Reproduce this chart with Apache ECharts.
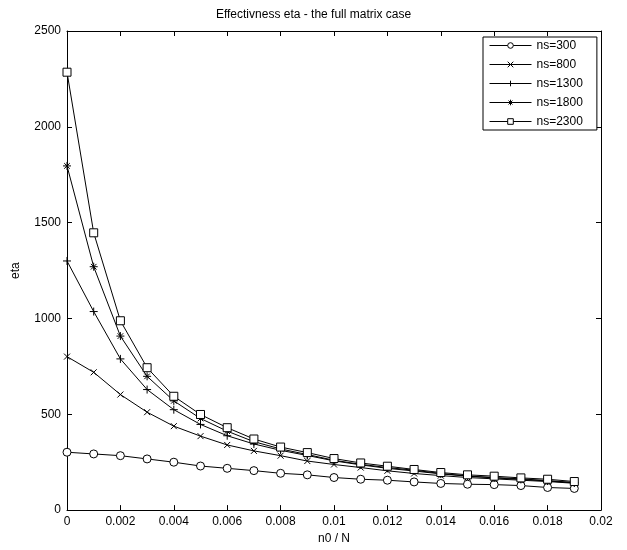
<!DOCTYPE html>
<html>
<head>
<meta charset="utf-8">
<title>Effectivness eta</title>
<script src="https://cdn.jsdelivr.net/npm/echarts@6/dist/echarts.min.js"></script>
<style>
	html, body { margin: 0; padding: 0; background: #fff; }
	#chart { width: 627px; height: 550px; }
</style>
</head>
<body>
<div id="chart"></div>
<script>
// x positions (n0 / N)
var xVals = [0, 0.001, 0.002, 0.003, 0.004, 0.005, 0.006, 0.007, 0.008, 0.009,
	0.010, 0.011, 0.012, 0.013, 0.014, 0.015, 0.016, 0.017, 0.018, 0.019];

// eta values
var ns300 = [302, 293, 284, 267, 250, 230, 218, 206, 192, 184, 170, 161, 156, 147, 139, 135, 133, 128, 118, 113];
var ns800 = [801, 719, 603, 511, 438, 386, 340, 309, 284, 256, 238, 222, 205, 191, 180, 170, 163, 156, 149, 140];
var ns1300 = [1300, 1036, 789, 629, 524, 447, 388, 345, 312, 285, 257, 236, 218, 204, 189, 177, 168, 160, 152, 142];
var ns1800 = [1796, 1270, 908, 698, 570, 478, 412, 357, 319, 290, 260, 239, 222, 208, 191, 178, 170, 163, 154, 144];
var ns2300 = [2285, 1447, 988, 743, 594, 499, 430, 371, 329, 300, 269, 246, 229, 212, 196, 184, 177, 168, 161, 149];

var legendNames = ['ns=300', 'ns=800', 'ns=1300', 'ns=1800', 'ns=2300'];

// marker shapes (stroked paths)
var markCircle = 'path://M10,5A5,5,0,1,1,0,5A5,5,0,1,1,10,5Z';
var markSquare = 'path://M0,0L10,0L10,10L0,10Z';
var markX = 'path://M0,0L10,10M10,0L0,10';
var markPlus = 'path://M5,0L5,10M0,5L10,5';
var markStar = 'path://M5,0L5,10M0,5L10,5M1.5,1.5L8.5,8.5M8.5,1.5L1.5,8.5';

var font = 'Liberation Sans, Arial, sans-serif';

function pairs(vals) {
	var out = [];
	vals.forEach(function (v, i) {
		out.push([xVals[i], v]);
	});
	return out;
}

function makeSeries(name, vals, symbol, size) {
	return {
		name: name,
		type: 'line',
		data: pairs(vals),
		symbol: symbol,
		symbolSize: size,
		showAllSymbol: true,
		animation: false,
		lineStyle: { color: '#000', width: 1 },
		itemStyle: { color: '#fff', borderColor: '#000', borderWidth: 1 },
		emphasis: { disabled: true }
	};
}

function axisBase(extra) {
	var a = {
		type: 'value',
		axisLine: { show: true, onZero: false, lineStyle: { color: '#000', width: 1 } },
		axisTick: { show: true, inside: true, length: 5, lineStyle: { color: '#000' } },
		splitLine: { show: false },
		axisLabel: { show: false }
	};
	for (var k in extra) a[k] = extra[k];
	return a;
}

var option = {
	backgroundColor: '#fff',
	animation: false,
	title: {
		text: 'Effectivness eta - the full matrix case',
		left: 'center',
		top: 4,
		textStyle: { fontFamily: font, fontSize: 12, fontWeight: 'normal', color: '#000' }
	},
	grid: { left: 67, right: 26, top: 31, bottom: 38 },
	legend: {
		orient: 'vertical',
		left: 483,
		top: 37,
		padding: [2.5, 14, 2.5, 6],
		itemWidth: 42,
		itemHeight: 7,
		itemGap: 7,
		borderColor: '#000',
		borderWidth: 1,
		backgroundColor: '#fff',
		lineStyle: { width: 1, color: '#000' },
		itemStyle: { color: '#fff', borderColor: '#000', borderWidth: 1 },
		textStyle: { fontFamily: font, fontSize: 12, color: '#000' },
		data: legendNames
	},
	xAxis: [
		axisBase({
			min: 0, max: 0.02, interval: 0.002,
			position: 'bottom',
			name: 'n0 / N',
			nameLocation: 'middle',
			nameGap: 22,
			nameTextStyle: { fontFamily: font, fontSize: 12, color: '#000' },
			axisLabel: {
				show: true, color: '#000', fontFamily: font, fontSize: 12, margin: 6,
				formatter: function (v) { return String(+v.toFixed(3)); }
			}
		}),
		axisBase({ min: 0, max: 0.02, interval: 0.002, position: 'top' })
	],
	yAxis: [
		axisBase({
			min: 0, max: 2500, interval: 500,
			position: 'left',
			name: 'eta',
			nameLocation: 'middle',
			nameGap: 45,
			nameRotate: 90,
			nameTextStyle: { fontFamily: font, fontSize: 12, color: '#000' },
			axisLabel: {
				show: true, color: '#000', fontFamily: font, fontSize: 12, margin: 6,
				formatter: function (v) { return String(v); }
			}
		}),
		axisBase({ min: 0, max: 2500, interval: 500, position: 'right' })
	],
	series: [
		makeSeries('ns=300', ns300, markCircle, 8),
		makeSeries('ns=800', ns800, markX, 6),
		makeSeries('ns=1300', ns1300, markPlus, 8),
		makeSeries('ns=1800', ns1800, markStar, 8),
		makeSeries('ns=2300', ns2300, markSquare, 8)
	]
};

var myChart = echarts.init(document.getElementById('chart'), null, { renderer: 'canvas' });
myChart.setOption(option);
</script>
</body>
</html>
